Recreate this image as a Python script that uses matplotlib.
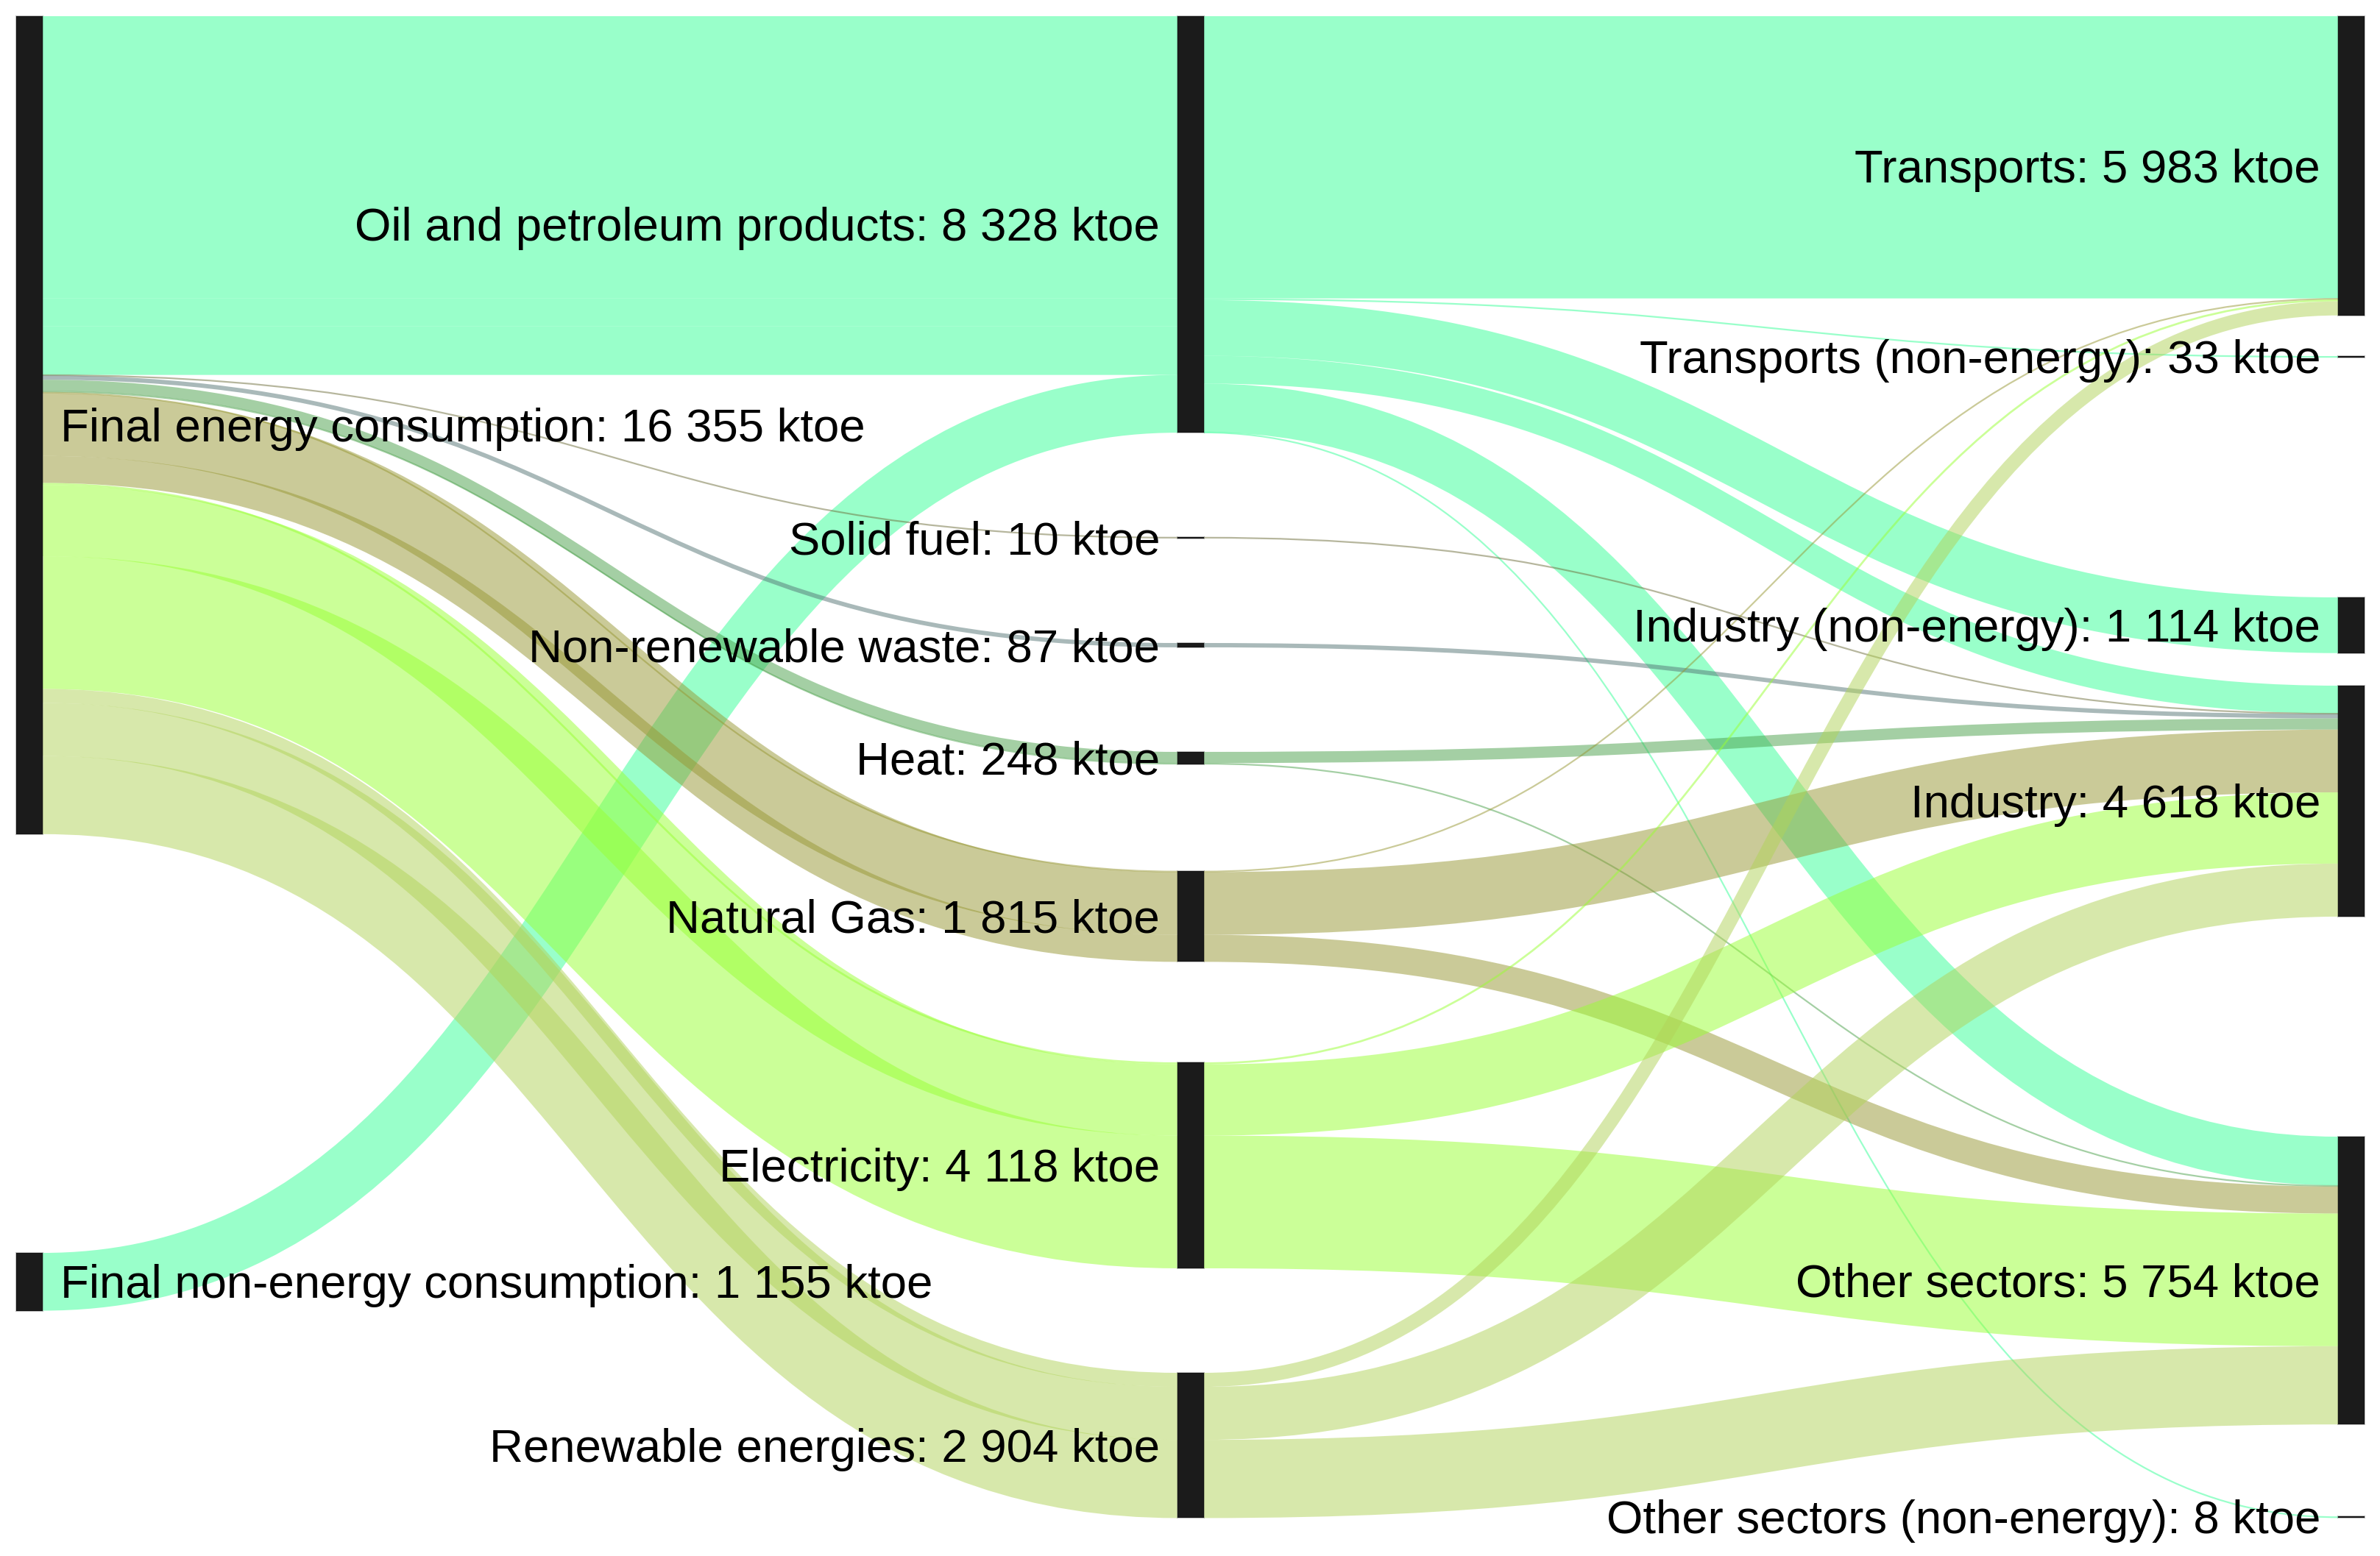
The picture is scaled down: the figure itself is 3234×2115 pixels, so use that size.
import matplotlib
matplotlib.use('Agg')
import matplotlib.pyplot as plt
from matplotlib.path import Path
from matplotlib.patches import PathPatch, Rectangle

# ---------------- data (ktoe) ----------------
sources = ['Final energy consumption', 'Final non-energy consumption']
carriers = ['Oil and petroleum products', 'Solid fuel', 'Non-renewable waste', 'Heat',
            'Natural Gas', 'Electricity', 'Renewable energies']
sectors = ['Transports', 'Transports (non-energy)', 'Industry (non-energy)', 'Industry',
           'Other sectors', 'Other sectors (non-energy)']
sector_source = ['Final energy consumption', 'Final non-energy consumption',
                 'Final non-energy consumption', 'Final energy consumption',
                 'Final energy consumption', 'Final non-energy consumption']

# carrier -> sector flows, in the order of `sectors`
oil_to_sector = [5643, 33, 1114, 556, 974, 8]
solid_fuel_to_sector = [0, 0, 0, 10, 0, 0]
waste_to_sector = [0, 0, 0, 87, 0, 0]
heat_to_sector = [0, 0, 0, 225, 23, 0]
gas_to_sector = [20, 0, 0, 1255, 540, 0]
electricity_to_sector = [40, 0, 0, 1425, 2653, 0]
renewables_to_sector = [280, 0, 0, 1060, 1564, 0]
carrier_flows = [oil_to_sector, solid_fuel_to_sector, waste_to_sector, heat_to_sector,
                 gas_to_sector, electricity_to_sector, renewables_to_sector]

carrier_colors = ['#35ff97', '#6e6e3c', '#557575', '#4ba14b',
                  '#979733', '#99ff33', '#b1d359']

# ---------------- layout (pixels) ----------------
W, H, DPI = 3234, 2115, 100
KTOE_PER_PX = 14.71
col_x = [22, 1600, 3177]
node_w = 36
label_gap = 24
node_top = {
    'Final energy consumption': 22, 'Final non-energy consumption': 1703,
    'Oil and petroleum products': 22, 'Solid fuel': 730.5, 'Non-renewable waste': 874,
    'Heat': 1022, 'Natural Gas': 1184, 'Electricity': 1444, 'Renewable energies': 1866,
    'Transports': 22, 'Transports (non-energy)': 484, 'Industry (non-energy)': 812,
    'Industry': 932, 'Other sectors': 1545, 'Other sectors (non-energy)': 2062,
}
node_col = {}
for n in sources:
    node_col[n] = 0
for n in carriers:
    node_col[n] = 1
for n in sectors:
    node_col[n] = 2

# ---------------- links ----------------
links = []
for ci, c in enumerate(carriers):
    # energy uses: one sub-link per sector (drawn adjacent, as in the original)
    for si, s in enumerate(sectors):
        v = carrier_flows[ci][si]
        if v > 0 and sector_source[si] == sources[0]:
            links.append(dict(src=sources[0], tgt=c, value=v, sub=si,
                              color=carrier_colors[ci]))
    # non-energy uses: a single link
    v_ne = sum(carrier_flows[ci][si] for si in range(len(sectors))
               if sector_source[si] == sources[1])
    if v_ne > 0:
        links.append(dict(src=sources[1], tgt=c, value=v_ne, sub=0,
                          color=carrier_colors[ci]))
for ci, c in enumerate(carriers):
    for si, s in enumerate(sectors):
        v = carrier_flows[ci][si]
        if v > 0:
            links.append(dict(src=c, tgt=s, value=v, sub=0, color=carrier_colors[ci]))

all_nodes = sources + carriers + sectors
node_in = {n: 0 for n in all_nodes}
node_out = {n: 0 for n in all_nodes}
for l in links:
    node_out[l['src']] += l['value']
    node_in[l['tgt']] += l['value']
node_val = {n: max(node_in[n], node_out[n]) for n in all_nodes}
node_h = {n: node_val[n] / KTOE_PER_PX for n in all_nodes}
node_c = {n: node_top[n] + node_h[n] / 2 for n in all_nodes}

for l in links:
    l['w'] = l['value'] / KTOE_PER_PX

for n in all_nodes:
    outs = sorted([l for l in links if l['src'] == n],
                  key=lambda l: (node_c[l['tgt']], l['sub']))
    y = node_top[n]
    for l in outs:
        l['y0'] = y + l['w'] / 2
        y += l['w']
    ins = sorted([l for l in links if l['tgt'] == n],
                 key=lambda l: (node_c[l['src']], l['sub']))
    y = node_top[n]
    for l in ins:
        l['y1'] = y + l['w'] / 2
        y += l['w']

# ---------------- draw ----------------
fig = plt.figure(figsize=(W / DPI, H / DPI), dpi=DPI)
ax = fig.add_axes([0, 0, 1, 1])
ax.set_xlim(0, W)
ax.set_ylim(H, 0)
ax.axis('off')

px2pt = 72.0 / DPI
for l in links:
    x0 = col_x[node_col[l['src']]] + node_w
    x1 = col_x[node_col[l['tgt']]]
    xm = (x0 + x1) / 2
    path = Path([(x0, l['y0']), (xm, l['y0']), (xm, l['y1']), (x1, l['y1'])],
                [Path.MOVETO, Path.CURVE4, Path.CURVE4, Path.CURVE4])
    ax.add_patch(PathPatch(path, facecolor='none', edgecolor=l['color'], alpha=0.5,
                           lw=max(2.2, l['w']) * px2pt, capstyle='butt', zorder=1))

for n in all_nodes:
    x = col_x[node_col[n]]
    h = max(node_h[n], 2.0)
    y = node_c[n] - h / 2
    ax.add_patch(Rectangle((x, y), node_w, h, facecolor='#1b1b1b',
                           edgecolor=(0, 0, 0, 0.25), lw=2 * px2pt, zorder=2))

fs = 45.7
em = fs / 72 * DPI
def fmt(v):
    return f"{int(round(v)):,}".replace(',', ' ')

for n in all_nodes:
    col = node_col[n]
    yb = node_c[n] + 0.35 * em
    txt = f"{n}: {fmt(node_val[n])} ktoe"
    if col == 0:
        ax.text(col_x[0] + node_w + label_gap, yb, txt, ha='left', va='baseline',
                fontsize=fs, family=['Liberation Sans', 'DejaVu Sans'], color='black', zorder=3)
    else:
        ax.text(col_x[col] - label_gap, yb, txt, ha='right', va='baseline',
                fontsize=fs, family=['Liberation Sans', 'DejaVu Sans'], color='black', zorder=3)

fig.savefig('out.png', dpi=DPI, facecolor='white')
